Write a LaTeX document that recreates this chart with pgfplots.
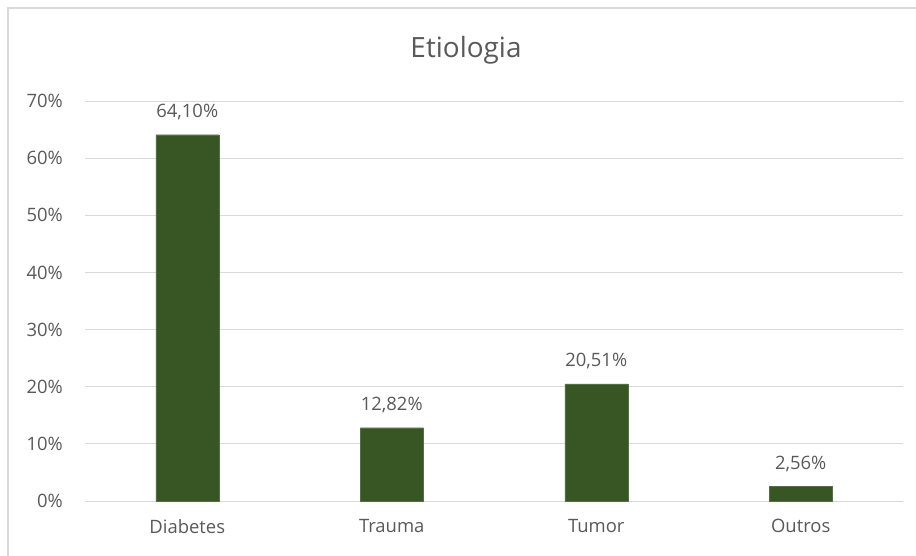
\documentclass[border=0pt]{standalone}
\usepackage{pgfplots}
\pgfplotsset{compat=1.18}
\usepackage{pgfplotstable}
\usepackage{fontspec}
\setmainfont{Open Sans}
\definecolor{barg}{HTML}{375623}
\definecolor{gridg}{HTML}{D9D9D9}
\definecolor{txtg}{HTML}{595959}
\pgfplotstableread{
x y lab
0 64.10 64,10\%
1 12.82 12,82\%
2 20.51 20,51\%
3 2.56 2,56\%
}\datatable
\begin{document}
\begin{tikzpicture}
\useasboundingbox (0,0) rectangle (916bp,556bp);
\draw[gridg, line width=1.2bp] (8bp,0) -- (8bp,548bp) -- (916bp,548bp);
\node[txtg, font=\fontsize{28}{32}\selectfont] at (466bp,506bp) {Etiologia};
\begin{axis}[
  at={(85bp,55bp)}, anchor=south west,
  scale only axis, width=818bp, height=400bp,
  xmin=-0.5, xmax=3.5, ymin=0, ymax=70,
  xtick=data, xticklabels={Diabetes,Trauma,Tumor,Outros},
  ytick={0,10,...,70},
  yticklabel={\pgfmathprintnumber{\tick}\%},
  /pgf/number format/assume math mode=true,
  major tick length=0pt,
  axis line style={draw=none},
  ymajorgrids, grid style={gridg, line width=1bp},
  tick label style={txtg, font=\fontsize{18.5}{22}\selectfont},
  yticklabel style={anchor=east, inner sep=0pt, xshift=-22bp},
  xticklabel style={anchor=north, inner sep=0pt, yshift=-18bp},
  clip=false,
]
\addplot[ybar, bar width=63bp, fill=barg, draw=barg!85!white,
  nodes near coords, point meta=explicit symbolic,
  nodes near coords style={txtg, font=\fontsize{18.5}{22}\selectfont, anchor=south, yshift=11bp}]
  table[x=x, y=y, meta=lab] {\datatable};
\end{axis}
\end{tikzpicture}
\end{document}
